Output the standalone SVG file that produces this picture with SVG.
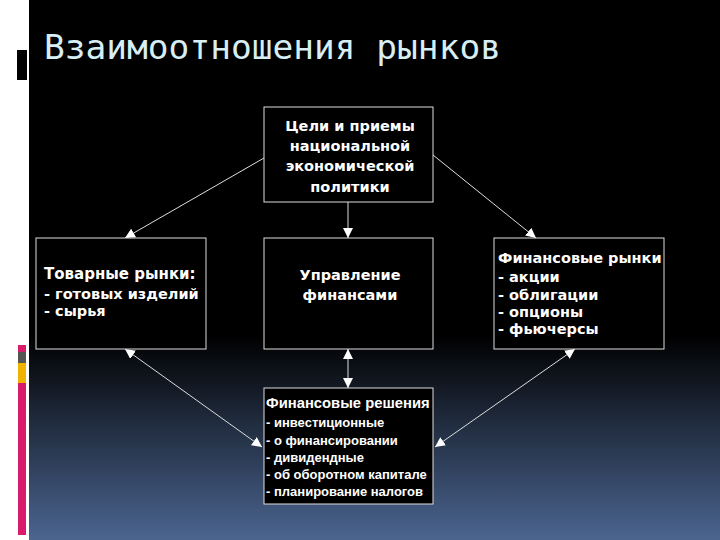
<svg xmlns="http://www.w3.org/2000/svg" width="720" height="540" viewBox="0 0 720 540">
<defs>
<linearGradient id="bg" x1="0" y1="0" x2="0" y2="1">
<stop offset="0" stop-color="#000"/><stop offset="0.62" stop-color="#000"/><stop offset="1" stop-color="#4b6590"/>
</linearGradient>
<marker id="ah" viewBox="0 0 10 10" refX="10" refY="5" markerWidth="10" markerHeight="10" markerUnits="userSpaceOnUse" orient="auto-start-reverse"><path d="M0,0 L10,5 L0,10 z" fill="#fff"/></marker>
<style>
.box{fill:#000;stroke:#ddd;stroke-width:1}
.t{font-family:"DejaVu Sans",sans-serif;font-weight:bold;font-size:14.5px;fill:#fff}
.c{stroke:#ddd;stroke-width:1;fill:none}
</style>
</defs>
<rect width="720" height="540" fill="#fff"/>
<rect x="29" y="0" width="691" height="540" fill="url(#bg)"/>
<rect x="17" y="50" width="10" height="30" fill="#000"/>
<rect x="18" y="345" width="8" height="7" fill="#d81b6a"/>
<rect x="18" y="352" width="8" height="11" fill="#555"/>
<rect x="18" y="363" width="8" height="20" fill="#f0b400"/>
<rect x="18" y="383" width="8" height="152" fill="#d81b6a"/>
<text x="44" y="59" font-family="DejaVu Sans Mono,monospace" font-size="34.5" fill="#d8eef5">Взаимоотношения рынков</text>
<g id="connectors">
<line class="c" x1="264" y1="158" x2="125" y2="238" marker-end="url(#ah)"/>
<line class="c" x1="433" y1="155" x2="536" y2="238" marker-end="url(#ah)"/>
<line class="c" x1="348" y1="202" x2="348" y2="238" marker-end="url(#ah)"/>
<line class="c" x1="125" y1="349" x2="262" y2="447" marker-start="url(#ah)" marker-end="url(#ah)"/>
<line class="c" x1="575" y1="349" x2="435" y2="447" marker-start="url(#ah)" marker-end="url(#ah)"/>
<line class="c" x1="348" y1="349" x2="348" y2="388" marker-start="url(#ah)" marker-end="url(#ah)"/>
</g>
<g id="goals"><rect class="box" x="264" y="107" width="169" height="95"/>
<text class="t" text-anchor="middle" font-size="15"><tspan x="350" y="131">Цели и приемы</tspan><tspan x="350" y="151">национальной</tspan><tspan x="350" y="171">экономической</tspan><tspan x="350" y="192">политики</tspan></text></g>
<g id="goods"><rect class="box" x="36" y="238" width="170" height="111"/>
<text class="t"><tspan x="44" y="279" font-size="15">Товарные рынки:</tspan><tspan x="44" y="299">- готовых изделий</tspan><tspan x="44" y="316">- сырья</tspan></text></g>
<g id="mgmt"><rect class="box" x="264" y="238" width="169" height="111"/>
<text class="t" text-anchor="middle" font-size="15"><tspan x="350" y="280">Управление</tspan><tspan x="350" y="300">финансами</tspan></text></g>
<g id="fin"><rect class="box" x="494" y="238" width="170" height="111"/>
<text class="t"><tspan x="498" y="263">Финансовые рынки</tspan><tspan x="498" y="282">- акции</tspan><tspan x="498" y="300">- облигации</tspan><tspan x="498" y="317">- опционы</tspan><tspan x="498" y="334">- фьючерсы</tspan></text></g>
<g id="decisions"><rect class="box" x="264" y="388" width="169" height="116"/>
<text font-family="Liberation Sans,Arial,sans-serif" font-weight="bold" font-size="13" fill="#fff"><tspan x="266" y="408" font-size="14.8">Финансовые решения</tspan><tspan x="266" y="427">- инвестиционные</tspan><tspan x="266" y="445">- о финансировании</tspan><tspan x="266" y="462">- дивидендные</tspan><tspan x="266" y="479">- об оборотном капитале</tspan><tspan x="266" y="496">- планирование налогов</tspan></text></g>
</svg>
